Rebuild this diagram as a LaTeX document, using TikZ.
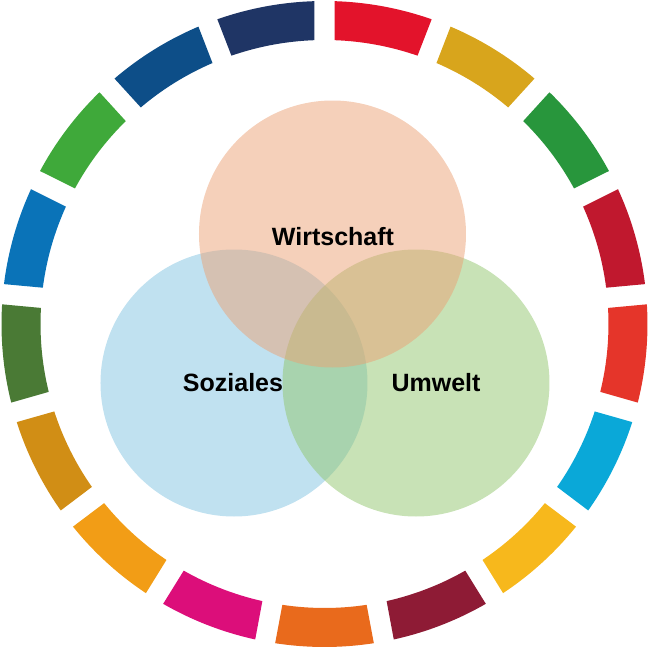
\documentclass[tikz,border=0pt]{standalone}
\usepackage{fontspec}
\setmainfont{Liberation Sans}

\definecolor{sdg1}{HTML}{E3132B}
\definecolor{sdg2}{HTML}{D8A51C}
\definecolor{sdg3}{HTML}{28963C}
\definecolor{sdg4}{HTML}{C0182E}
\definecolor{sdg5}{HTML}{E5352A}
\definecolor{sdg6}{HTML}{0AA8D8}
\definecolor{sdg7}{HTML}{F7B81C}
\definecolor{sdg8}{HTML}{8E1B35}
\definecolor{sdg9}{HTML}{E96A1C}
\definecolor{sdg10}{HTML}{DC0E7A}
\definecolor{sdg11}{HTML}{F29D16}
\definecolor{sdg12}{HTML}{D18E15}
\definecolor{sdg13}{HTML}{4A7A35}
\definecolor{sdg14}{HTML}{0A73B8}
\definecolor{sdg15}{HTML}{3FA93A}
\definecolor{sdg16}{HTML}{0D4E88}
\definecolor{sdg17}{HTML}{1F3565}
\definecolor{wirfill}{HTML}{EBA175}
\definecolor{sozfill}{HTML}{81C3E1}
\definecolor{umwfill}{HTML}{91C56D}

\tikzset{
venn/.style={circle, minimum size=133.5pt, inner sep=0pt, fill opacity=0.5},
lbl/.style={font=\fontsize{12.5}{14}\selectfont\bfseries, anchor=base, inner sep=0pt}
}

\begin{document}
\begin{tikzpicture}[x=0.5pt,y=0.5pt]
\useasboundingbox (-324.5,-325) rectangle (325.5,324);
\foreach \k in {1,...,17}{
\pgfmathsetmacro\a{90-(\k-1)*360/17}
\pgfmathsetmacro\b{90-\k*360/17}
\fill[fill=sdg\k] (\a-1.8:323) arc[start angle=\a-1.8, end angle=\b+1.8, radius=323]
  -- (\b+2.05:284) arc[start angle=\b+2.05, end angle=\a-2.05, radius=284] -- cycle;
}
\node[venn, fill=sozfill] (soziales) at (-90.5,-59) {};
\node[venn, fill=umwfill] (umwelt) at (91.5,-59) {};
\node[venn, fill=wirfill] (wirtschaft) at (8,90) {};
\node[lbl] (wirtschaftlbl) at (8.5,79) {Wirtschaft};
\node[lbl] (sozialeslbl) at (-91.5,-68) {Soziales};
\node[lbl] (umweltlbl) at (111.5,-68) {Umwelt};
\end{tikzpicture}
\end{document}
